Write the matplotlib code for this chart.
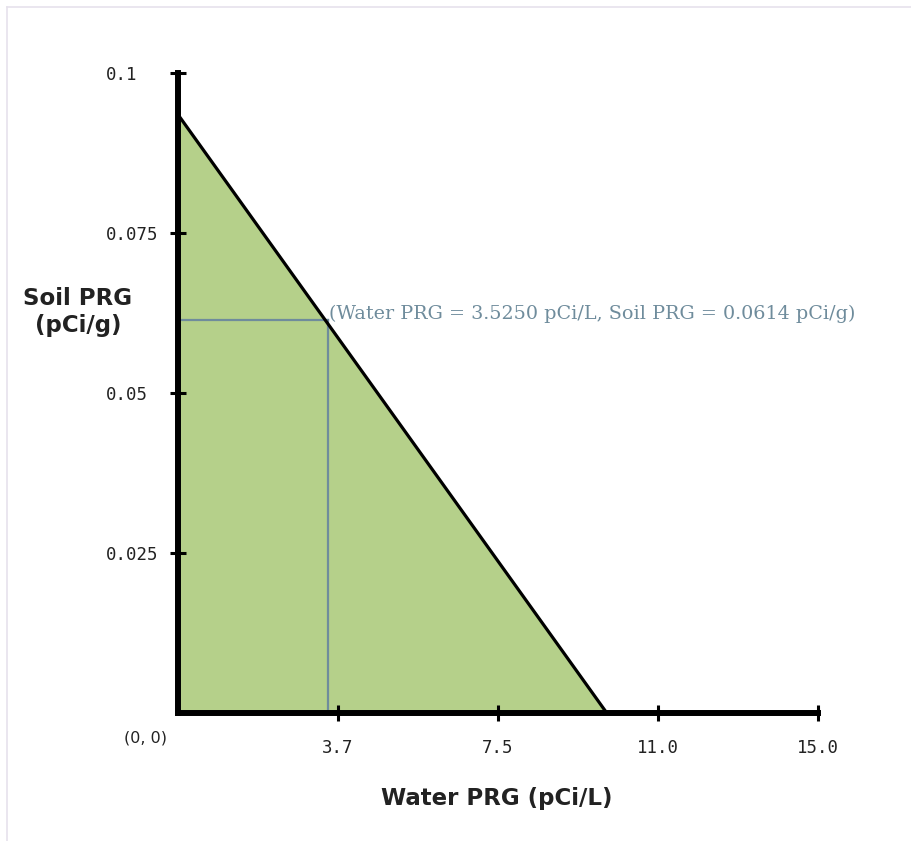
import matplotlib
matplotlib.use("Agg")
import matplotlib.pyplot as plt
from matplotlib.lines import Line2D

# Data
water_intercept = 10.05      # pCi/L where soil PRG reaches 0
soil_intercept = 0.0935      # pCi/g where water PRG is 0
point_water = 3.5250
point_soil = 0.0614
x_ticks = [3.75, 7.5, 11.25, 15.0]
x_tick_labels = ["3.7", "7.5", "11.0", "15.0"]
y_ticks = [0.025, 0.05, 0.075, 0.1]
y_tick_labels = ["0.025", "0.05", "0.075", "0.1"]
annotation = "(Water PRG = 3.5250 pCi/L, Soil PRG = 0.0614 pCi/g)"

W, H = 912, 841
fig = plt.figure(figsize=(W / 100, H / 100), dpi=100)
fig.patch.set_facecolor("white")

ax = fig.add_axes([178 / W, (H - 713) / H, 640 / W, 640 / H])
ax.set_xlim(0, 15)
ax.set_ylim(0, 0.1)

line_x = [0, water_intercept]
line_y = [soil_intercept, 0]
ax.fill_between(line_x, line_y, 0, color="#B5D08A", linewidth=0, zorder=1)
ax.plot(line_x, line_y, color="black", lw=2.3, zorder=3, solid_capstyle="butt")

cross_color = "#6F8C9C"
ax.plot([point_water, point_water], [0, point_soil], color=cross_color, lw=1.6, zorder=2)
ax.plot([0, point_water], [point_soil, point_soil], color=cross_color, lw=1.6, zorder=2)
ax.text(point_water + 0.02, point_soil + 0.0002, annotation, family="DejaVu Serif",
        fontsize=13.8, color=cross_color, ha="left", va="baseline", zorder=4)

for s in ["top", "right"]:
    ax.spines[s].set_visible(False)
for s in ["left", "bottom"]:
    ax.spines[s].set_linewidth(4.3)
    ax.spines[s].set_color("black")
    ax.spines[s].set_zorder(5)
ax.set_facecolor("none")

tick_font = dict(family="DejaVu Sans Mono", fontsize=12.5, color="#222222")
ax.set_xticks(x_ticks)
ax.set_xticklabels(x_tick_labels, **tick_font)
ax.set_yticks(y_ticks)
ax.set_yticklabels(y_tick_labels, ha="left", **tick_font)
ax.tick_params(axis="x", direction="inout", length=12, width=2.2, pad=13)
ax.tick_params(axis="y", direction="inout", length=12, width=2.2, pad=46)

ax.text(-0.75, -0.0039, "(0, 0)", ha="center", va="center",
        family="DejaVu Sans", fontsize=11.5, color="#222222")

fig.text(497 / W, 1 - 798 / H, "Water PRG (pCi/L)", fontsize=16.5, fontweight="bold",
         color="#222222", ha="center", va="center")
fig.text(78 / W, 1 - 312 / H, "Soil PRG\n(pCi/g)", fontsize=16.5, fontweight="bold",
         color="#222222", ha="center", va="center", linespacing=1.25)

frame_color = "#E6E2EC"
fig.add_artist(Line2D([7 / W, 1], [1 - 7 / H, 1 - 7 / H], color=frame_color, lw=1.2))
fig.add_artist(Line2D([7 / W, 7 / W], [0, 1 - 7 / H], color=frame_color, lw=1.2))

fig.savefig("out.png", dpi=100, facecolor="white")
